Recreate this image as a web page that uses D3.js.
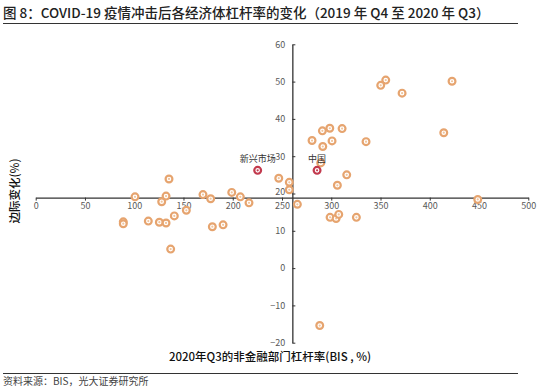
<!DOCTYPE html>
<html>
<head>
<meta charset="utf-8">
<script src="https://cdn.jsdelivr.net/npm/d3@7"></script>
<style>
  body { margin: 0; background: #fff; }
  text { font-family: "Noto Sans CJK SC", "Noto Sans", sans-serif; }
</style>
</head>
<body>
<script>
// leverage level 2020Q3 (x) vs change 2019Q4-2020Q3 (y)
var levelX = [135.3, 100.8, 132.3, 127.9, 169.8, 177.6, 199, 207.7, 216.5, 152.9,
              140.7, 88.9, 88.9, 114.3, 125.5, 132.3, 179.3, 190.2, 137,
              289.3, 246.7, 257.4, 257.4, 265.6, 306.2, 315.7, 298.8, 304.9, 307.6, 325.5,
              422.6, 355.3, 350.2, 371.9, 414.2, 280.5, 291, 298.5, 311, 300.8, 291.4, 335.3,
              448.7, 288.3];
var changeY = [23.9, 19.1, 19.3, 17.8, 19.7, 18.6, 20.3, 19.1, 17.5, 15.5,
               14.0, 12.4, 11.9, 12.6, 12.3, 12.1, 11.1, 11.6, 5.1,
               28.2, 24.1, 23.0, 21.0, 17.1, 22.2, 25.0, 13.6, 13.3, 14.4, 13.6,
               50.1, 50.4, 49.0, 46.9, 36.3, 34.2, 36.8, 37.5, 37.4, 34.1, 32.6, 33.9,
               18.4, -15.4];

// highlighted economies
var hiNames = ["新兴市场", "中国"];
var hiX = [225.3, 285.6];
var hiY = [26.2, 26.2];

var xTicks = [0, 50, 100, 150, 200, 250, 300, 350, 400, 450, 500];
var yTicks = [-20, -10, 0, 10, 20, 30, 40, 50, 60];

var width = 550, height = 392;
var xCross = 260.5, yCross = 18.9;

var svg = d3.select("body").append("svg")
    .attr("width", width)
    .attr("height", height);

var x = d3.scaleLinear().domain([0, 500]).range([35.7, 528.3]);
var y = d3.scaleLinear().domain([-20, 60]).range([342.7, 44.3]);

// title + rules
svg.append("text")
    .attr("x", 3)
    .attr("y", 18)
    .attr("font-size", 13.5)
    .attr("font-weight", 500)
    .attr("fill", "#222")
    .text("图 8：COVID-19 疫情冲击后各经济体杠杆率的变化（2019 年 Q4 至 2020 年 Q3）");

svg.append("line")
    .attr("x1", 3).attr("x2", 518)
    .attr("y1", 23.5).attr("y2", 23.5)
    .attr("stroke", "#333").attr("stroke-width", 1);

svg.append("line")
    .attr("x1", 3).attr("x2", 518)
    .attr("y1", 373.5).attr("y2", 373.5)
    .attr("stroke", "#333").attr("stroke-width", 1);

svg.append("text")
    .attr("x", 3)
    .attr("y", 385)
    .attr("font-size", 10)
    .attr("fill", "#444")
    .text("资料来源：BIS，光大证券研究所");

// x axis (crosses at yCross)
var xAxis = svg.append("g")
    .attr("transform", "translate(0," + y(yCross) + ")")
    .call(d3.axisBottom(x).tickValues(xTicks).tickSize(3).tickSizeOuter(0));
xAxis.select(".domain").attr("stroke", "#333").attr("stroke-width", 1.3);
xAxis.selectAll(".tick line").attr("stroke", "#333");
xAxis.selectAll(".tick text")
    .attr("font-size", 9)
    .attr("fill", "#595959")
    .attr("y", 5);

// y axis (crosses at xCross)
var yAxis = svg.append("g")
    .attr("transform", "translate(" + x(xCross) + ",0)")
    .call(d3.axisLeft(y).tickValues(yTicks).tickSize(-3).tickSizeOuter(0));
yAxis.select(".domain").attr("stroke", "#333").attr("stroke-width", 1.3);
yAxis.selectAll(".tick line").attr("stroke", "#333");
yAxis.selectAll(".tick text")
    .attr("font-size", 9)
    .attr("fill", "#595959")
    .attr("x", -7)
    .attr("dy", function(d) { return d === 20 ? "0.1em" : "0.32em"; });

// axis titles
svg.append("text")
    .attr("x", 270)
    .attr("y", 361)
    .attr("text-anchor", "middle")
    .attr("font-size", 11.5)
    .attr("font-weight", 500)
    .attr("fill", "#111")
    .text("2020年Q3的非金融部门杠杆率(BIS , %)");

svg.append("text")
    .attr("transform", "translate(19,191) rotate(-90)")
    .attr("text-anchor", "middle")
    .attr("font-size", 11.5)
    .attr("font-weight", 500)
    .attr("fill", "#111")
    .text("边际变化(%)");

// points
var pts = levelX.map(function(d, i) { return {x: d, y: changeY[i]}; });

var dots = svg.append("g").selectAll("g")
    .data(pts)
    .enter()
    .append("g")
    .attr("transform", function(d) { return "translate(" + x(d.x) + "," + y(d.y) + ")"; });

dots.append("circle")
    .attr("r", 3.4)
    .attr("fill", "#fff")
    .attr("stroke", "#E6A46F")
    .attr("stroke-width", 2.2);
dots.append("circle")
    .attr("r", 1.1)
    .attr("fill", "#F0C49C");

var hi = hiNames.map(function(n, i) { return {name: n, x: hiX[i], y: hiY[i]}; });

var hiDots = svg.append("g").selectAll("g")
    .data(hi)
    .enter()
    .append("g")
    .attr("transform", function(d) { return "translate(" + x(d.x) + "," + y(d.y) + ")"; });

hiDots.append("circle")
    .attr("r", 3.4)
    .attr("fill", "#fff")
    .attr("stroke", "#C23A4E")
    .attr("stroke-width", 2.2);
hiDots.append("circle")
    .attr("r", 1.1)
    .attr("fill", "#C23A4E");

hiDots.append("text")
    .attr("y", -8)
    .attr("text-anchor", "middle")
    .attr("font-size", 9)
    .attr("fill", "#333")
    .text(function(d) { return d.name; });
</script>
</body>
</html>
